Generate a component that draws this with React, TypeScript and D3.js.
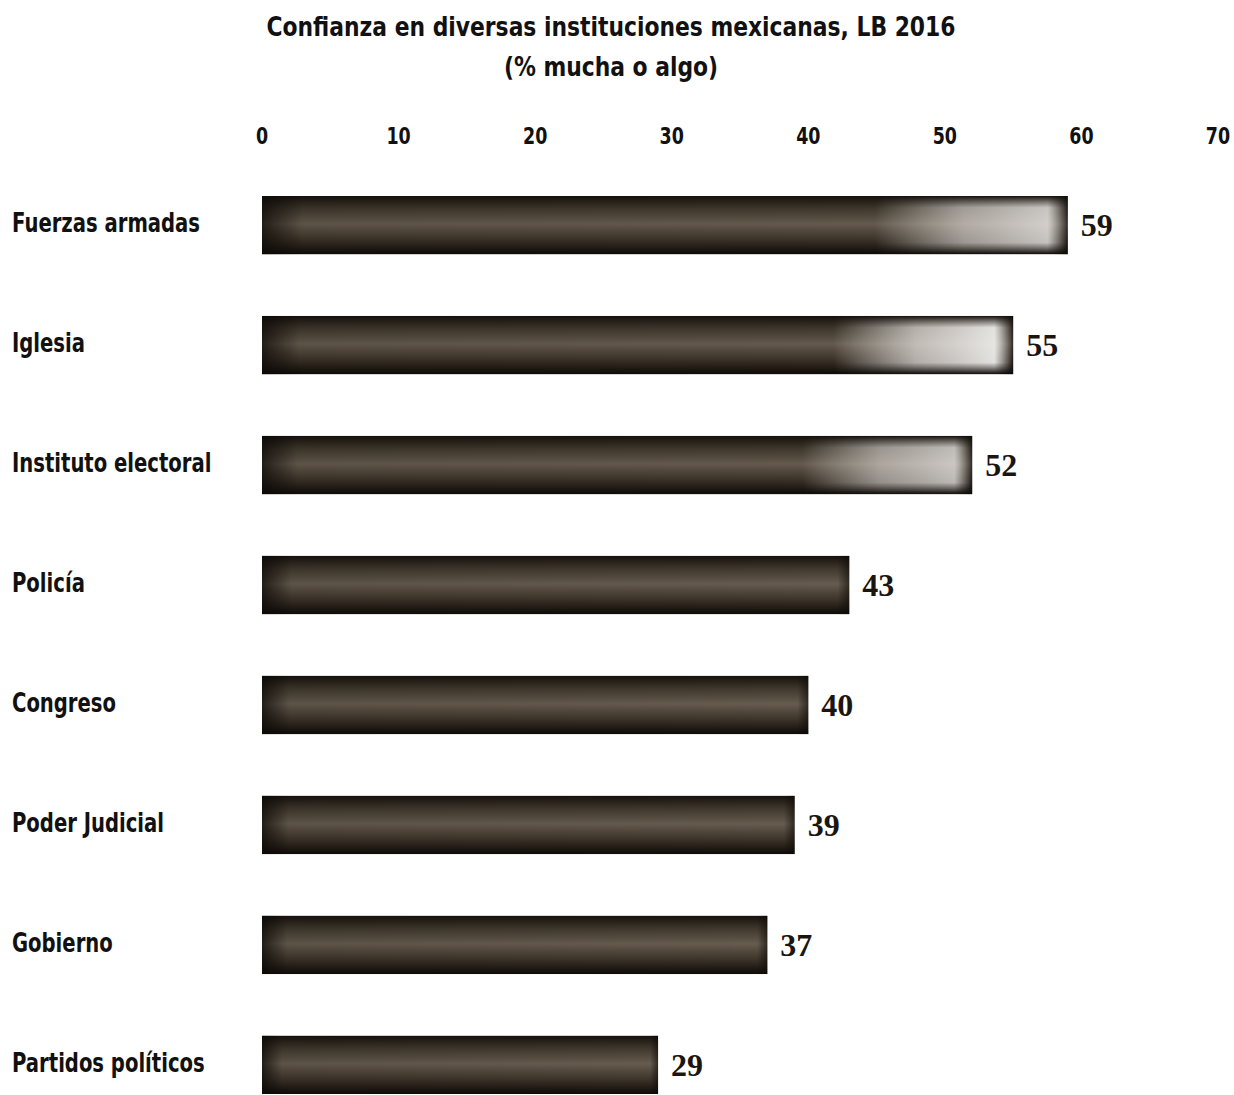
import * as React from 'react';
import * as d3 from 'd3';

const dimensions = { width: 1234, height: 1095 };
const margin = { top: 196, left: 262, right: 16, bottom: 1 };

const categories = [
  'Fuerzas armadas',
  'Iglesia',
  'Instituto electoral',
  'Policía',
  'Congreso',
  'Poder Judicial',
  'Gobierno',
  'Partidos políticos',
];
const values = [59, 55, 52, 43, 40, 39, 37, 29];
const ticks = [0, 10, 20, 30, 40, 50, 60, 70];
const titleLines = ['Confianza en diversas instituciones mexicanas, LB 2016', '(% mucha o algo)'];

// white glare on the right end of the upper bars, as in the scan
const glare = [0.75, 0.9, 0.7, 0, 0, 0, 0, 0];

// no condensed sans is installed, so squeeze DejaVu Sans Bold horizontally
const sansFont = '"DejaVu Sans", sans-serif';
const serifFont = '"Liberation Serif", "DejaVu Serif", serif';

const App: React.FC = () => {
  const x = d3.scaleLinear([0, 70], [margin.left, dimensions.width - margin.right]);
  const y = d3
    .scaleBand(categories, [margin.top, dimensions.height - margin.bottom])
    .paddingInner(0.515)
    .paddingOuter(0);
  const bh = y.bandwidth();

  return (
    <svg
      width={dimensions.width}
      height={dimensions.height}
      viewBox={`0 0 ${dimensions.width} ${dimensions.height}`}
      style={{ position: 'absolute', left: 0, top: 0, background: '#fff' }}
    >
      <defs>
        <linearGradient id="vshade" x1="0" y1="0" x2="0" y2="1">
          <stop offset="0" stopColor="#16110c" />
          <stop offset="0.22" stopColor="#40382d" />
          <stop offset="0.48" stopColor="#665c4f" />
          <stop offset="0.75" stopColor="#3c3329" />
          <stop offset="1" stopColor="#0e0a07" />
        </linearGradient>
        <linearGradient id="hshade" x1="0" y1="0" x2="1" y2="0">
          <stop offset="0" stopColor="#0c0906" stopOpacity="0.75" />
          <stop offset="0.05" stopColor="#0c0906" stopOpacity="0.1" />
          <stop offset="0.98" stopColor="#0c0906" stopOpacity="0" />
          <stop offset="1" stopColor="#0c0906" stopOpacity="0.6" />
        </linearGradient>
        {glare.map((g, i) => (
          <linearGradient key={i} id={`glare${i}`} x1="0" y1="0" x2="1" y2="0">
            <stop offset="0" stopColor="#fff" stopOpacity="0" />
            <stop offset="0.76" stopColor="#fff" stopOpacity="0" />
            <stop offset="0.87" stopColor="#eeebe8" stopOpacity={g * 0.75} />
            <stop offset="0.975" stopColor="#f6f5f4" stopOpacity={g} />
            <stop offset="1" stopColor="#fff" stopOpacity="0" />
          </linearGradient>
        ))}
        <linearGradient id="glareV" x1="0" y1="0" x2="0" y2="1">
          <stop offset="0" stopColor="#000" />
          <stop offset="0.2" stopColor="#fff" />
          <stop offset="0.8" stopColor="#fff" />
          <stop offset="1" stopColor="#000" />
        </linearGradient>
        <mask id="glareMask" maskContentUnits="objectBoundingBox">
          <rect x="0" y="0" width="1" height="1" fill="url(#glareV)" />
        </mask>
      </defs>

      <g fontFamily={sansFont} fontWeight="bold" fill="#111" textAnchor="middle" fontSize={27}>
        {titleLines.map((t, i) => (
          <text key={t} transform={`translate(611, ${36 + i * 40}) scale(0.81, 1)`}>
            {t}
          </text>
        ))}
      </g>

      <g fontFamily={sansFont} fontWeight="bold" fill="#111" textAnchor="middle" fontSize={23}>
        {ticks.map((t) => (
          <text key={t} transform={`translate(${x(t)}, 144) scale(0.76, 1)`}>
            {t}
          </text>
        ))}
      </g>

      <g fontFamily={sansFont} fontWeight="bold" fill="#111" fontSize={26}>
        {categories.map((c) => (
          <text
            key={c}
            transform={`translate(12, ${(y(c) ?? 0) + bh / 2 + 7}) scale(0.755, 1)`}
          >
            {c}
          </text>
        ))}
      </g>

      <g>
        {categories.map((c, i) => {
          const bx = x(0);
          const by = y(c) ?? 0;
          const bw = x(values[i]) - x(0);
          return (
            <g key={c}>
              <rect x={bx} y={by} width={bw} height={bh} fill="url(#vshade)" />
              <rect x={bx} y={by} width={bw} height={bh} fill="url(#hshade)" />
              {glare[i] > 0 && (
                <rect
                  x={bx}
                  y={by}
                  width={bw}
                  height={bh}
                  fill={`url(#glare${i})`}
                  mask="url(#glareMask)"
                />
              )}
            </g>
          );
        })}
      </g>

      <g fontFamily={serifFont} fontWeight="bold" fill="#1a1510" fontSize={32}>
        {categories.map((c, i) => (
          <text key={c} x={x(values[i]) + 13} y={(y(c) ?? 0) + bh / 2 + 11}>
            {values[i]}
          </text>
        ))}
      </g>
    </svg>
  );
};

export default App;
